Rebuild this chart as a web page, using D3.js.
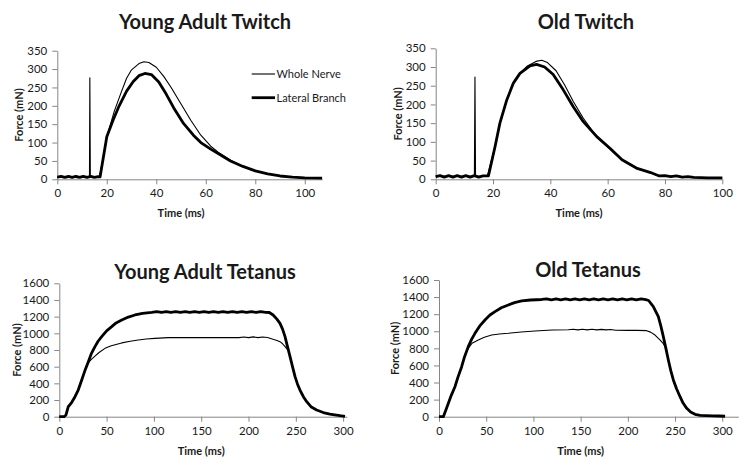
<!DOCTYPE html>
<html>
<head>
<meta charset="utf-8">
<script src="https://cdn.jsdelivr.net/npm/d3@7"></script>
<style>
  html, body { margin: 0; padding: 0; background: #fff; }
  svg { display: block; }
  text { font-family: Lato, "Open Sans", sans-serif; fill: #1a1a1a; }
</style>
</head>
<body>
<svg id="chart" width="750" height="470"></svg>
<script>
// ---------------- DATA ----------------
const seriesNames = ["Whole Nerve", "Lateral Branch"];
const panelTitles = ["Young Adult Twitch", "Old Twitch", "Young Adult Tetanus", "Old Tetanus"];
const twitchYTicks = [0, 50, 100, 150, 200, 250, 300, 350];
const twitchXTicks = [0, 20, 40, 60, 80, 100];
const tetanusYTicks = [0, 200, 400, 600, 800, 1000, 1200, 1400, 1600];
const tetanusXTicks = [0, 50, 100, 150, 200, 250, 300];

// Young Adult Twitch
const ytwWholeT = [0, 2, 4, 6, 8, 10, 12, 13.0, 13.15, 13.35, 15, 17, 18, 20, 23, 26, 28, 30, 33, 35, 37, 40, 43, 46, 50, 54, 58, 62, 65, 70, 75, 80, 85, 90, 95, 100, 107];
const ytwWholeF = [5, 7, 4, 7, 4, 7, 5, 5, 276, 5, 5, 7, 40, 115, 185, 240, 275, 298, 315, 320, 318, 305, 280, 250, 205, 160, 120, 90, 74, 52, 35, 23, 15, 9, 6, 4, 3];
const ytwLatT = [0, 1.5, 3, 4.5, 6, 7.5, 9, 10.5, 12, 13.5, 15, 16.5, 17.3, 20, 22.6, 25, 28, 30.7, 33, 35.4, 38, 41, 44, 47, 51, 55, 58, 62, 66, 70, 75, 80, 85, 90, 95, 100, 107];
const ytwLatF = [6, 8, 5, 8, 5, 8, 5, 8, 5, 8, 5, 7, 7, 116, 162, 200, 240, 266, 282, 288, 285, 265, 232, 195, 152, 120, 100, 82, 66, 50, 35, 23, 15, 9, 6, 4, 3];

// Old Twitch
const otwWholeT = [0, 13.5, 13.7, 13.9, 18, 20.7, 22.4, 24.8, 27.1, 29.4, 32, 35, 37, 39, 42, 45, 48, 51.5, 55, 58, 62, 65, 70, 75, 78, 83, 90, 100];
const otwWholeF = [8, 8, 273, 8, 8, 87, 150, 212, 257, 283, 303, 315, 318, 312, 290, 252, 208, 163, 126, 100, 72, 52, 30, 18, 9, 8, 5, 4];
const otwLatT = [0, 1.5, 3, 4.5, 6, 7.5, 9, 10.5, 12, 13.5, 15, 16.5, 18.4, 20.7, 22.4, 24.8, 27.1, 29.4, 32.9, 35.2, 38, 41, 44.5, 48, 51.5, 56.2, 60.8, 65, 70, 75, 78, 80, 82, 84, 86, 88, 90, 95, 100];
const otwLatF = [7, 10, 6, 10, 6, 10, 6, 10, 6, 10, 6, 9, 9, 87, 150, 212, 257, 283, 303, 307, 300, 280, 239, 194, 154, 114, 83, 52, 30, 18, 9, 10, 7, 9, 6, 7, 5, 4, 4];

// Young Adult Tetanus
const ytnWholeT = [0, 5, 7, 9.5, 13, 16.6, 20, 23.7, 27, 30.7, 34.2, 38, 42, 48.3, 55, 66, 75, 83.5, 92, 101, 115, 130, 150, 170, 190, 195, 200, 205, 210, 215, 220, 226, 230, 233.3, 236, 238.6, 242, 243.9, 246.5, 249.2, 251.8, 254.4, 258, 261.5, 266, 272, 279, 286, 291, 296.7, 302];
const ytnWholeF = [0, 0, 20, 120, 170, 240, 320, 440, 550, 650, 690, 730, 770, 820, 850, 885, 905, 920, 932, 940, 948, 948, 948, 948, 948, 956, 948, 957, 948, 956, 950, 928, 915, 900, 875, 840, 795, 720, 600, 480, 390, 320, 240, 180, 120, 80, 50, 32, 22, 12, 5];
const ytnLatT = [0, 5, 7, 9.5, 13, 16.6, 20, 23.7, 27, 30.7, 34, 37.7, 41, 44.8, 50, 55.4, 60, 66, 73, 80, 88, 97.7, 103, 108, 113, 118, 123, 128, 133, 138, 143, 148, 153, 158, 163, 168, 173, 178, 183, 188, 193, 198, 203, 208, 213, 218, 222, 226, 230, 233.3, 236, 238.6, 241, 243.9, 246.5, 249.2, 251.8, 254.4, 258, 261.5, 266, 272, 279, 286, 291, 296.7, 302];
const ytnLatF = [0, 0, 20, 120, 170, 240, 320, 440, 550, 660, 760, 840, 905, 960, 1030, 1080, 1125, 1160, 1195, 1220, 1240, 1252, 1260, 1250, 1260, 1250, 1260, 1250, 1260, 1250, 1260, 1250, 1260, 1250, 1260, 1250, 1260, 1250, 1260, 1250, 1260, 1250, 1260, 1250, 1260, 1252, 1250, 1220, 1170, 1120, 1050, 960, 850, 720, 600, 480, 390, 320, 240, 180, 120, 80, 50, 32, 22, 12, 5];

// Old Tetanus
const otnWholeT = [0, 4.6, 7, 9.9, 13, 16.9, 20, 24, 27, 31, 35, 41.6, 48, 55.8, 64, 73.4, 87, 101.7, 120, 137, 142, 147, 152, 157, 162, 167, 172, 177, 182, 187, 200, 210, 220, 224, 228.8, 234, 237.6, 240.3, 242.9, 245.5, 248.2, 251.5, 255.3, 258.5, 262.4, 266.5, 271.2, 276.5, 283, 290, 297, 303];
const otnWholeF = [0, 0, 70, 157, 250, 351, 460, 585, 700, 800, 860, 898, 930, 956, 968, 976, 992, 1003, 1015, 1018, 1024, 1016, 1023, 1016, 1023, 1016, 1022, 1016, 1021, 1012, 1010, 1010, 1007, 990, 956, 898, 855, 800, 664, 540, 430, 330, 234, 160, 98, 55, 28, 15, 12, 10, 8, 5];
const otnLatT = [0, 4.6, 7, 9.9, 13, 16.9, 20, 24, 27, 31, 34.5, 38.1, 43, 48.7, 54, 59.3, 66, 73.4, 80, 87.6, 97, 108.8, 114, 119, 124, 129, 134, 139, 144, 149, 154, 159, 164, 169, 174, 179, 184, 189, 194, 199, 204, 209, 214, 219, 222, 227, 232.3, 235, 237.6, 240.3, 242.9, 245.5, 248.2, 251.5, 255.3, 258.5, 262.4, 266.5, 271.2, 276.5, 283, 290, 297, 303];
const otnLatF = [0, 0, 70, 157, 250, 351, 460, 585, 700, 820, 905, 976, 1060, 1132, 1190, 1230, 1275, 1308, 1335, 1355, 1366, 1372, 1378, 1368, 1378, 1368, 1378, 1368, 1378, 1368, 1378, 1368, 1378, 1368, 1378, 1368, 1378, 1368, 1378, 1368, 1378, 1368, 1378, 1370, 1360, 1288, 1171, 1060, 937, 800, 664, 540, 430, 330, 234, 160, 98, 55, 28, 15, 12, 10, 8, 5];

// ---------------- DRAW ----------------
const svg = d3.select("#chart");
const zip = (t, f) => t.map((v, i) => [v, f[i]]);

const panels = [
  { title: panelTitles[0], titleX: 205, titleY: 29,
    xDom: [0, 107], xRange: [57.3, 322.1], yDom: [0, 350], yRange: [179.3, 50.7],
    xTicks: twitchXTicks, yTicks: twitchYTicks,
    whole: zip(ytwWholeT, ytwWholeF), lat: zip(ytwLatT, ytwLatF),
    yLabX: 19, xLabY: 217, legend: true },
  { title: panelTitles[1], titleX: 586, titleY: 29,
    xDom: [0, 100], xRange: [435.7, 722.3], yDom: [0, 350], yRange: [179.3, 48.3],
    xTicks: twitchXTicks, yTicks: twitchYTicks,
    whole: zip(otwWholeT, otwWholeF), lat: zip(otwLatT, otwLatF),
    yLabX: 398, xLabY: 217 },
  { title: panelTitles[2], titleX: 205, titleY: 279,
    xDom: [0, 304], xRange: [59.3, 346.9], yDom: [0, 1600], yRange: [416.7, 283.3],
    xTicks: tetanusXTicks, yTicks: tetanusYTicks,
    whole: zip(ytnWholeT, ytnWholeF), lat: zip(ytnLatT, ytnLatF),
    yLabX: 17, xLabY: 455 },
  { title: panelTitles[3], titleX: 588, titleY: 277,
    xDom: [0, 317], xRange: [439, 738.3], yDom: [0, 1600], yRange: [416.7, 280],
    xTicks: tetanusXTicks, yTicks: tetanusYTicks,
    whole: zip(otnWholeT, otnWholeF), lat: zip(otnLatT, otnLatF),
    yLabX: 395, xLabY: 455 }
];

panels.forEach(p => {
  const x = d3.scaleLinear().domain(p.xDom).range(p.xRange);
  const y = d3.scaleLinear().domain(p.yDom).range(p.yRange);
  const g = svg.append("g");

  g.append("text").attr("x", p.titleX).attr("y", p.titleY)
    .attr("text-anchor", "middle").style("font-size", "20px").style("font-weight", "bold")
    .text(p.title);

  const xa = g.append("g").attr("transform", `translate(0,${p.yRange[0]})`)
    .call(d3.axisBottom(x).tickValues(p.xTicks).tickFormat(d3.format("d")).tickSize(5).tickPadding(5).tickSizeOuter(0));
  const ya = g.append("g").attr("transform", `translate(${p.xRange[0]},0)`)
    .call(d3.axisLeft(y).tickValues(p.yTicks).tickFormat(d3.format("d")).tickSize(5).tickPadding(5).tickSizeOuter(0));
  [xa, ya].forEach(a => {
    a.select(".domain").attr("stroke", "#868686").attr("stroke-width", 1);
    a.selectAll(".tick line").attr("stroke", "#868686");
    a.selectAll(".tick text").style("font-size", "11.5px").style("font-family", "Lato, sans-serif").attr("fill", "#1a1a1a");
  });

  g.append("text").attr("x", (p.xRange[0] + x(p.xTicks[p.xTicks.length - 1])) / 2).attr("y", p.xLabY)
    .attr("text-anchor", "middle").style("font-size", "11px").style("font-weight", "bold").text("Time (ms)");
  g.append("text")
    .attr("transform", `translate(${p.yLabX},${(p.yRange[0] + p.yRange[1]) / 2}) rotate(-90)`)
    .attr("text-anchor", "middle").attr("dy", "0.35em")
    .style("font-size", "11px").style("font-weight", "bold").text("Force (mN)");

  const line = d3.line().x(d => x(d[0])).y(d => y(d[1]));
  g.append("path").datum(p.lat).attr("d", line)
    .attr("fill", "none").attr("stroke", "#000").attr("stroke-width", 2.8).attr("stroke-linejoin", "round");
  g.append("path").datum(p.whole).attr("d", line)
    .attr("fill", "none").attr("stroke", "#000").attr("stroke-width", 1.1).attr("stroke-linejoin", "round");

  if (p.legend) {
    const lg = g.append("g");
    const items = [{ name: seriesNames[0], w: 1.1, yy: 74 }, { name: seriesNames[1], w: 2.8, yy: 97.7 }];
    items.forEach(it => {
      lg.append("line").attr("x1", 251.7).attr("x2", 275).attr("y1", it.yy).attr("y2", it.yy)
        .attr("stroke", "#000").attr("stroke-width", it.w);
      lg.append("text").attr("x", 276.5).attr("y", it.yy).attr("dy", "0.35em")
        .style("font-size", "11px").text(it.name);
    });
  }
});
</script>
</body>
</html>
